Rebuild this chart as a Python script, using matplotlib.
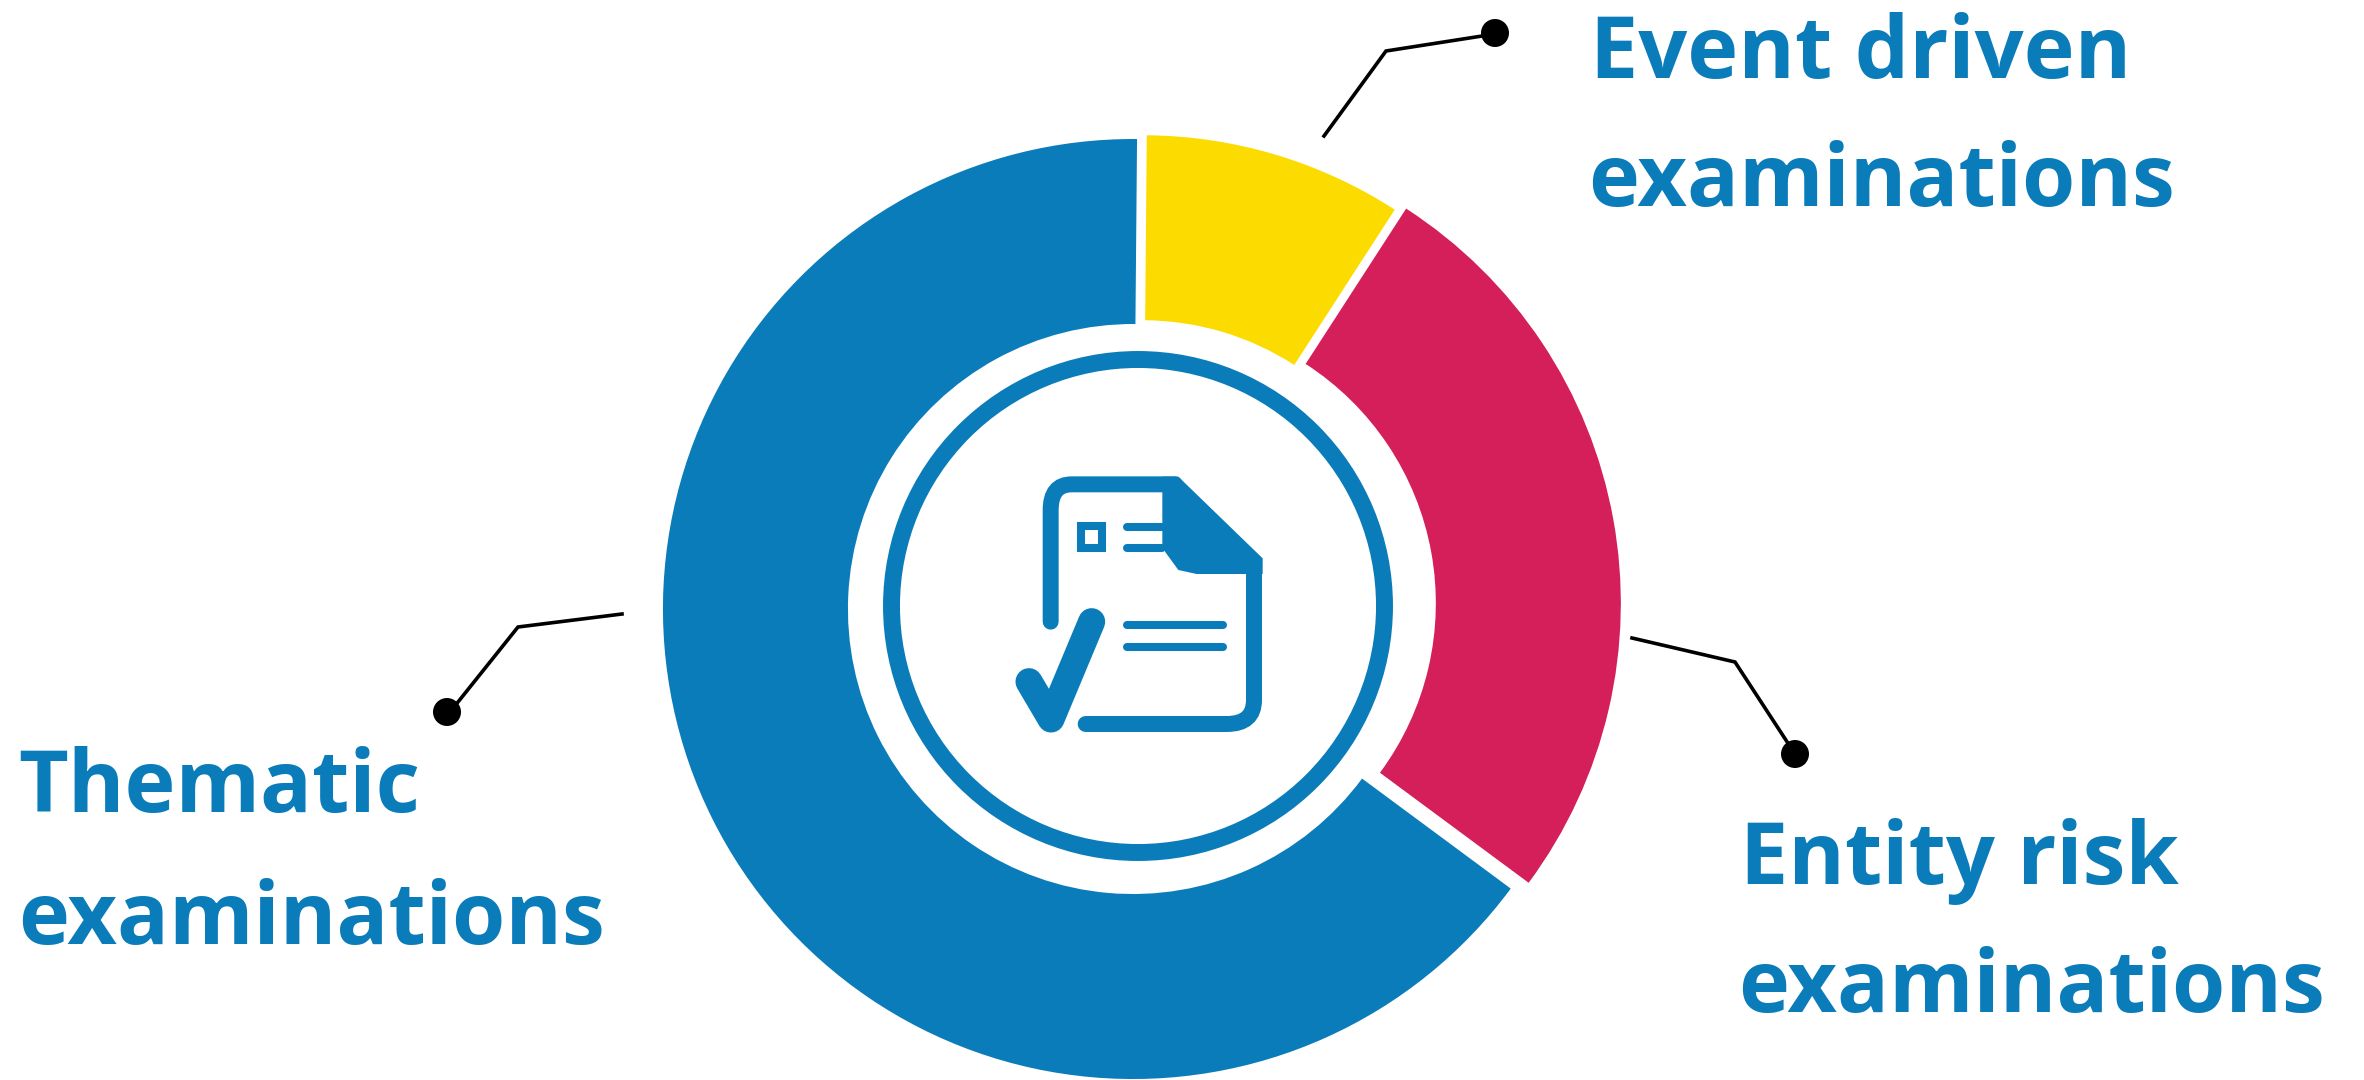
import matplotlib
matplotlib.use('Agg')
import matplotlib.pyplot as plt
from matplotlib.patches import Circle, PathPatch, Polygon, Rectangle
from matplotlib.path import Path

W, H = 2364, 1080
BLUE = '#0B7CBA'
RED = '#D41F5A'
YELLOW = '#FCDC00'

categories = ['Thematic\nexaminations', 'Entity risk\nexaminations', 'Event driven\nexaminations']
shares = [65, 26, 9]
colors = [BLUE, RED, YELLOW]
offsets = [9, 10, 6]

fig = plt.figure(figsize=(W / 100, H / 100), dpi=100)
ax = fig.add_axes([0, 0, 1, 1])


def py(y):
    return H - y


wedges, _ = ax.pie(shares, colors=colors, startangle=89.5, radius=470, explode=offsets,
                   center=(1141, py(605)), wedgeprops={'width': 185, 'linewidth': 0})
wedges[2].set_radius(464)
ax.set_xlim(0, W)
ax.set_ylim(0, H)
ax.set_aspect('equal')
ax.axis('off')

# ring round the icon
ax.add_patch(Circle((1138, py(606)), 246.5, fill=False, ec=BLUE, lw=12.2))


# icon drawn on a local grid, 3 units per pixel
def ix(x):
    return 850 + x / 3


def iy(y):
    return py(320 + y / 3)


def stroke(points, lw):
    xs = [ix(p[0]) for p in points]
    ys = [iy(p[1]) for p in points]
    ax.plot(xs, ys, color=BLUE, lw=lw, solid_capstyle='round', solid_joinstyle='round')


def curve(verts, codes, lw):
    path = Path([(ix(x), iy(y)) for x, y in verts], codes)
    ax.add_patch(PathPatch(path, fill=False, ec=BLUE, lw=lw, capstyle='round'))


lw_doc = 11.5
curve([(602, 905), (602, 570), (602, 493), (665, 493), (975, 493)],
      [Path.MOVETO, Path.LINETO, Path.CURVE3, Path.CURVE3, Path.LINETO], lw_doc)
curve([(1212, 730), (1212, 1140), (1212, 1212), (1130, 1212), (707, 1212)],
      [Path.MOVETO, Path.LINETO, Path.CURVE3, Path.CURVE3, Path.LINETO], lw_doc)

fold = [(937, 470), (985, 470), (1238, 715), (1238, 762), (1040, 762), (985, 750), (945, 695), (937, 670)]
ax.add_patch(Polygon([(ix(x), iy(y)) for x, y in fold], closed=True, fc=BLUE, ec='none'))

ax.add_patch(Rectangle((ix(692), iy(684)), (756 - 692) / 3, (684 - 619) / 3, fill=False, ec=BLUE, lw=5.8))
for row in (620, 684):
    stroke([(830, row), (937, row)], 5.8)
for row in (915, 980):
    stroke([(830, row), (1120, row)], 5.8)
stroke([(537, 1085), (603, 1197), (725, 905)], 19.5)

# leader lines, each ending in a dot
leaders = [
    ([(1324, 136), (1386, 51), (1495, 34)], (1495, 33)),
    ([(622, 614), (518, 627), (450, 712)], (447, 712)),
    ([(1632, 638), (1735, 662), (1795, 754)], (1795, 754)),
]
for line, dot in leaders:
    ax.plot([p[0] for p in line], [py(p[1]) for p in line], color='black', lw=2.6, solid_joinstyle='miter')
    ax.add_patch(Circle((dot[0], py(dot[1])), 14, fc='black', ec='none'))

# category labels, first line baseline then second
label_pos = [(18, 812, 18, 944), (1740, 884, 1738, 1012), (1590, 78, 1588, 206)]
for name, (x1, y1, x2, y2) in zip(categories, label_pos):
    top, bottom = name.split('\n')
    ax.text(x1, py(y1), top, fontsize=62, fontweight='bold', family='Open Sans', color=BLUE, va='baseline')
    ax.text(x2, py(y2), bottom, fontsize=62, fontweight='bold', family='Open Sans', color=BLUE, va='baseline')

fig.savefig('out.png', dpi=100)
